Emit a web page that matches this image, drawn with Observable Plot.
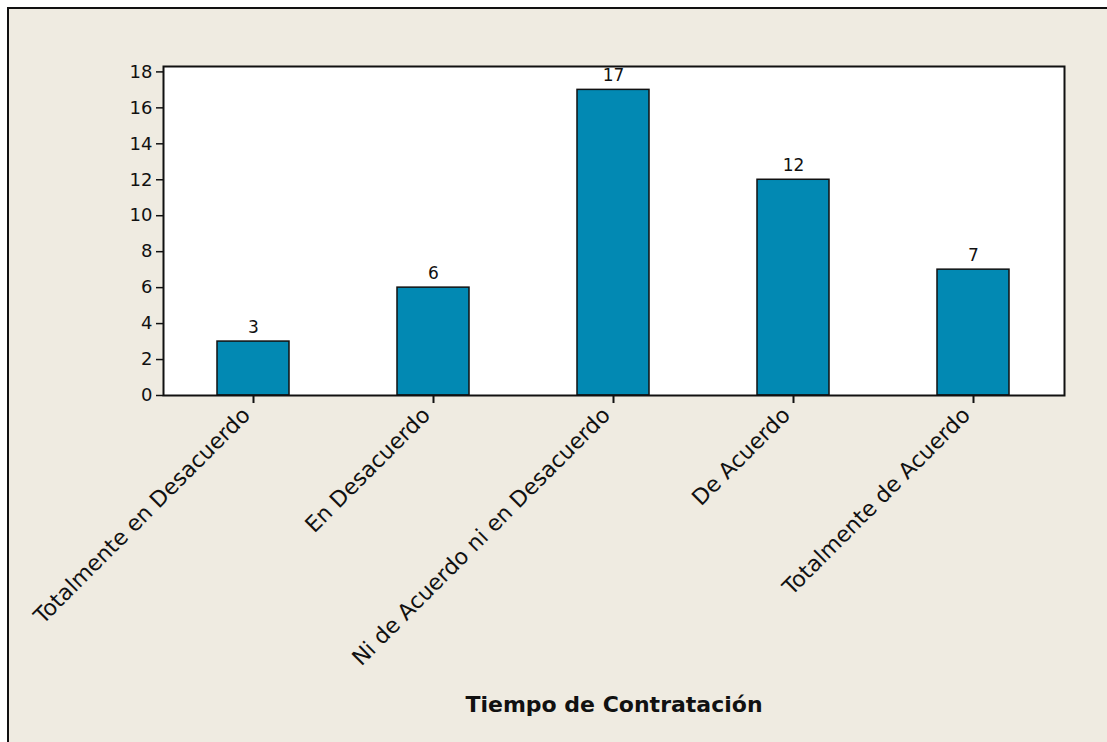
<!DOCTYPE html>
<html>
<head>
<meta charset="utf-8">
<script src="https://cdn.jsdelivr.net/npm/d3@7"></script>
<script src="https://cdn.jsdelivr.net/npm/@observablehq/plot@0.6"></script>
<style>
  html, body { margin: 0; padding: 0; background: #ffffff; }
  #wrap { position: relative; width: 1107px; height: 742px; overflow: hidden; }
  #panel { position: absolute; left: 7px; top: 7px; width: 1120px; height: 760px;
           background: #efebe1; border-left: 2px solid #111; border-top: 2px solid #111; box-sizing: border-box; }
  #chart { position: absolute; left: 0; top: 0; }
</style>
</head>
<body>
<div id="wrap"><div id="panel"></div><div id="chart"></div></div>
<script>
const categories = ["Totalmente en Desacuerdo", "En Desacuerdo", "Ni de Acuerdo ni en Desacuerdo", "De Acuerdo", "Totalmente de Acuerdo"];
const counts = [3, 6, 17, 12, 7];
const yTicks = [0, 2, 4, 6, 8, 10, 12, 14, 16, 18];
const xTitle = "Tiempo de Contratación";

const data = categories.map((c, i) => ({category: c, count: counts[i]}));

const chart = Plot.plot({
  width: 1107,
  height: 742,
  marginLeft: 163,
  marginRight: 43,
  marginTop: 66,
  marginBottom: 347,
  style: {background: "transparent", fontFamily: "DejaVu Sans", color: "#111"},
  x: {domain: categories, paddingInner: 0.6, paddingOuter: 0.3, label: null},
  y: {domain: [0, 18.3], label: null},
  marks: [
    Plot.frame({fill: "white", stroke: "none"}),
    Plot.barY(data, {x: "category", y: "count", fill: "#0289b3", stroke: "#111", strokeWidth: 1.5}),
    Plot.text(data, {x: "category", y: "count", text: d => String(d.count), dy: -14, fontSize: 17, fill: "#111"}),
    Plot.frame({stroke: "#111", strokeWidth: 2}),
    Plot.axisY({ticks: yTicks, tickSize: 7, tickPadding: 4, fontSize: 18, stroke: "#111", strokeWidth: 1.5, label: null}),
    Plot.axisX({tickSize: 8, tickFormat: () => "", stroke: "#111", strokeWidth: 2, label: null}),
    Plot.axisX({tickSize: 0, tickRotate: -45, tickPadding: 13, fontSize: 22, label: null, dx: -7, dy: 3}),
    Plot.text([xTitle], {frameAnchor: "bottom", dy: 316, fontSize: 22, fontWeight: "bold", fill: "#111"})
  ]
});
document.getElementById("chart").appendChild(chart);
</script>
</body>
</html>
